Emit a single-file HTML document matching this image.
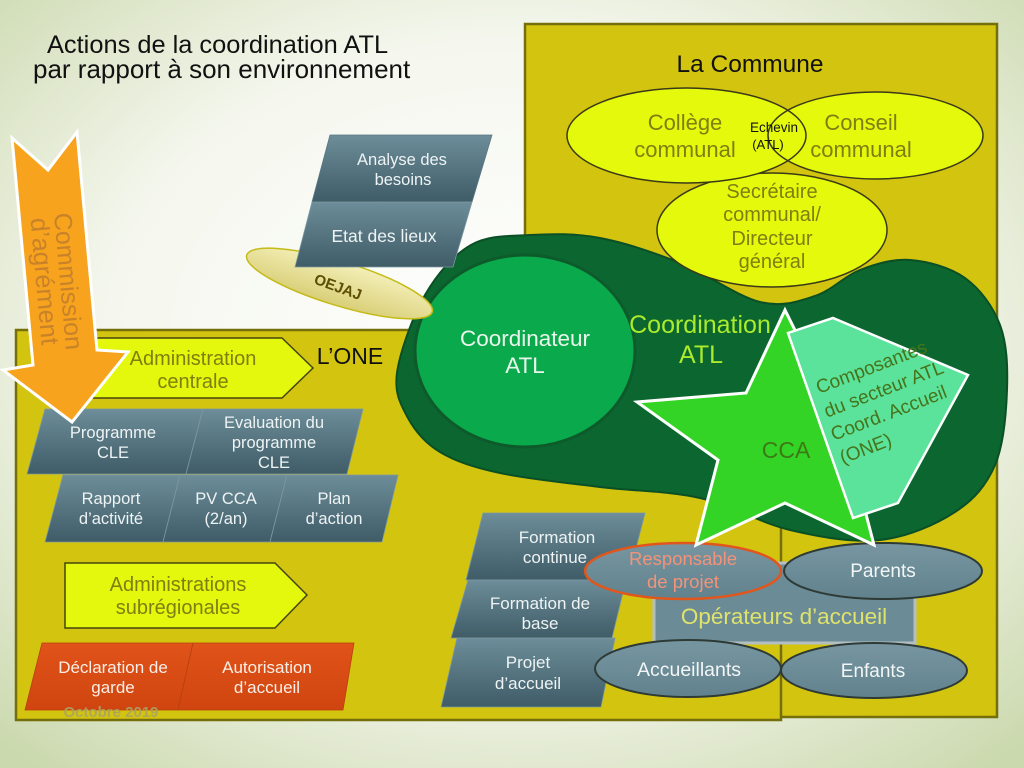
<!DOCTYPE html>
<html><head><meta charset="utf-8">
<style>
html,body{margin:0;padding:0;width:1024px;height:768px;overflow:hidden;background:#f4f6ec;}
svg{display:block;}
text{font-family:"Liberation Sans",Arial,sans-serif;}
</style></head><body>
<svg width="1024" height="768" viewBox="0 0 1024 768" xmlns="http://www.w3.org/2000/svg">
<defs>
<radialGradient id="bg" cx="50%" cy="45%" r="72%">
 <stop offset="0" stop-color="#ffffff"/>
 <stop offset="0.55" stop-color="#f5f7ee"/>
 <stop offset="1" stop-color="#cbd9ae"/>
</radialGradient>
<linearGradient id="slate" x1="0" y1="0" x2="0" y2="1">
 <stop offset="0" stop-color="#6c8d99"/>
 <stop offset="1" stop-color="#3f5c67"/>
</linearGradient>
<linearGradient id="red" x1="0" y1="0" x2="0" y2="1">
 <stop offset="0" stop-color="#e0541a"/>
 <stop offset="1" stop-color="#d0440f"/>
</linearGradient>
<linearGradient id="oe" x1="0" y1="0" x2="0" y2="1">
 <stop offset="0" stop-color="#f4efb8"/>
 <stop offset="1" stop-color="#d9cf78"/>
</linearGradient>
<linearGradient id="ell" x1="0" y1="0" x2="0" y2="1">
 <stop offset="0" stop-color="#7796a1"/>
 <stop offset="1" stop-color="#61828d"/>
</linearGradient>
</defs>

<rect x="0" y="0" width="1024" height="768" fill="url(#bg)"/>

<!-- Title -->
<text x="47" y="53" font-size="25.4" fill="#111">Actions de la coordination ATL</text>
<text x="33" y="78" font-size="26" fill="#111">par rapport à son environnement</text>

<!-- Boxes -->
<rect x="525" y="24" width="472" height="693" fill="#d3c40f" stroke="#756f0b" stroke-width="2.5"/>
<rect x="16" y="330" width="765" height="390" fill="#d3c40f" stroke="#756f0b" stroke-width="2.5"/>

<!-- Coordination blob -->
<path d="M397,373 C399.8,352.5 412.7,316.3 425,295 C437.3,273.7 453.5,255 471,245 C488.5,235 508.5,236.2 530,235 C551.5,233.8 575,233.3 600,238 C625,242.7 653.3,252.3 680,263 C706.7,273.7 737.5,296.5 760,302 C782.5,307.5 798.3,301.3 815,296 C831.7,290.7 844.2,276 860,270 C875.8,264 892.5,258.7 910,260 C927.5,261.3 950,267.2 965,278 C980,288.8 993,306.3 1000,325 C1007,343.7 1007.8,366.7 1007,390 C1006.2,413.3 1003.7,444.7 995,465 C986.3,485.3 974.2,499.5 955,512 C935.8,524.5 907.5,537 880,540 C852.5,543 820,537 790,530 C760,523 731.7,505.2 700,498 C668.3,490.8 633.3,491.2 600,487 C566.7,482.8 526.7,478.8 500,473 C473.3,467.2 455.3,461.2 440,452 C424.7,442.8 415.2,431.2 408,418 C400.8,404.8 394.2,393.5 397,373 Z" fill="#0c6630" stroke="#0a4f25" stroke-width="2"/>

<!-- Coordinateur -->
<ellipse cx="525" cy="351" rx="110" ry="96" fill="#0aa94b" stroke="#0d5a2b" stroke-width="3"/>
<text x="525" y="346" font-size="22.5" fill="#eaf6ec" text-anchor="middle">Coordinateur</text>
<text x="525" y="373" font-size="22.5" fill="#eaf6ec" text-anchor="middle">ATL</text>

<!-- Commune ellipses -->
<ellipse cx="772" cy="230" rx="115" ry="57" fill="#e5f90c" stroke="#3a3a18" stroke-width="1.5"/>
<ellipse cx="686.5" cy="135.5" rx="119.5" ry="47.5" fill="#e5f90c"/>
<ellipse cx="875.5" cy="135.5" rx="107.5" ry="43.5" fill="#e5f90c"/>
<ellipse cx="686.5" cy="135.5" rx="119.5" ry="47.5" fill="none" stroke="#3a3a18" stroke-width="1.5"/>
<ellipse cx="875.5" cy="135.5" rx="107.5" ry="43.5" fill="none" stroke="#3a3a18" stroke-width="1.5"/>

<text x="750" y="72" font-size="24.5" fill="#111" text-anchor="middle">La Commune</text>
<g font-size="22" fill="#7f7e12" text-anchor="middle">
<text x="685" y="130">Collège</text>
<text x="685" y="157">communal</text>
<text x="861" y="130">Conseil</text>
<text x="861" y="157">communal</text>
</g>
<text x="774" y="132" font-size="13.5" fill="#111" text-anchor="middle">Echevin</text>
<text x="768" y="149" font-size="13" fill="#111" text-anchor="middle">(ATL)</text>
<g font-size="20" fill="#7f7e12" text-anchor="middle">
<text x="772" y="198">Secrétaire</text>
<text x="772" y="221">communal/</text>
<text x="772" y="245">Directeur</text>
<text x="772" y="268">général</text>
</g>

<!-- OEJAJ -->
<ellipse cx="339.5" cy="283.5" rx="97" ry="22" transform="rotate(17 339.5 283.5)" fill="url(#oe)" stroke="#c5bb18" stroke-width="1.5"/>
<text transform="translate(338,287) rotate(20)" y="5" font-size="15" font-weight="bold" fill="#5c4e05" text-anchor="middle">OEJAJ</text>

<!-- Analyse / Etat -->
<polygon points="330,135 492,135 472,202 312,202" fill="url(#slate)" stroke="#5a7782" stroke-width="0.8"/>
<polygon points="312,202 472,202 453,267 295,267" fill="url(#slate)" stroke="#7c98a2" stroke-width="0.8"/>
<g fill="#eef3f4" text-anchor="middle">
<text x="402" y="165" font-size="16.5">Analyse des</text>
<text x="403" y="185" font-size="16.5">besoins</text>
<text x="384" y="242" font-size="17.5">Etat des lieux</text>
</g>

<!-- Administration centrale -->
<polygon points="70,338 282,338 313,368 282,398 70,398" fill="#e3f80c" stroke="#45450f" stroke-width="1.5"/>
<text x="193" y="365" font-size="20" fill="#7f7e12" text-anchor="middle">Administration</text>
<text x="193" y="388" font-size="20" fill="#7f7e12" text-anchor="middle">centrale</text>
<text x="350" y="364" font-size="23" fill="#111" text-anchor="middle">L’ONE</text>

<!-- Programme rows -->
<g fill="url(#slate)" stroke="#7c98a2" stroke-width="0.8">
<polygon points="45,409 203,409 186,474 27,474"/>
<polygon points="203,409 363,409 347,474 186,474"/>
<polygon points="63,475 180,475 163,542 45,542"/>
<polygon points="180,475 287,475 270,542 163,542"/>
<polygon points="287,475 398,475 382,542 270,542"/>
</g>
<g fill="#eef3f4" text-anchor="middle" font-size="16.5">
<text x="113" y="438">Programme</text>
<text x="113" y="458">CLE</text>
<text x="274" y="428">Evaluation du</text>
<text x="274" y="448">programme</text>
<text x="274" y="468">CLE</text>
<text x="111" y="504">Rapport</text>
<text x="111" y="524">d’activité</text>
<text x="226" y="504">PV CCA</text>
<text x="226" y="524">(2/an)</text>
<text x="334" y="504">Plan</text>
<text x="334" y="524">d’action</text>
</g>

<!-- Commission d'agrément arrow (on top of programme row) -->
<polygon points="12,138 48,170 77,132 97,350 128,352 72,422 3,370 33,365" fill="#f7a31d" stroke="#ffffff" stroke-width="3" stroke-linejoin="miter"/>
<text transform="translate(60,282) rotate(85)" font-size="25" fill="#c8822a" text-anchor="middle">Commission</text>
<text transform="translate(36,282) rotate(85)" font-size="25.5" fill="#c8822a" text-anchor="middle">d’agrément</text>

<!-- Administrations subrégionales -->
<polygon points="65,563 275,563 307,595 275,628 65,628" fill="#e3f80c" stroke="#45450f" stroke-width="1.5"/>
<text x="178" y="591" font-size="20" fill="#7f7e12" text-anchor="middle">Administrations</text>
<text x="178" y="614" font-size="20" fill="#7f7e12" text-anchor="middle">subrégionales</text>

<!-- Red boxes -->
<polygon points="42,643 193,643 178,710 25,710" fill="url(#red)" stroke="#b8400f" stroke-width="0.8"/>
<polygon points="193,643 354,643 343,710 178,710" fill="url(#red)" stroke="#b8400f" stroke-width="0.8"/>
<g fill="#fbeee6" text-anchor="middle" font-size="17">
<text x="113" y="673">Déclaration de</text>
<text x="113" y="693">garde</text>
<text x="267" y="673">Autorisation</text>
<text x="267" y="693">d’accueil</text>
</g>
<text x="111" y="717" font-size="15" font-weight="bold" fill="#aaa463" text-anchor="middle" opacity="0.9">Octobre 2019</text>

<!-- Formation boxes -->
<g fill="url(#slate)" stroke="#7c98a2" stroke-width="0.8">
<polygon points="483,513 645,513 628,580 466,580"/>
<polygon points="468,580 626,580 612,638 451,638"/>
<polygon points="457,638 615,638 601,707 441,707"/>
</g>
<g fill="#eef3f4" text-anchor="middle" font-size="17">
<text x="557" y="543">Formation</text>
<text x="555" y="563">continue</text>
<text x="540" y="609">Formation de</text>
<text x="540" y="629">base</text>
<text x="528" y="668">Projet</text>
<text x="528" y="689">d’accueil</text>
</g>

<!-- Opérateurs d'accueil -->
<rect x="654" y="563" width="261" height="80" fill="#6b8b96" stroke="#b3bfc2" stroke-width="3"/>
<text x="784" y="624" font-size="22.5" fill="#dfe36c" text-anchor="middle">Opérateurs d’accueil</text>

<ellipse cx="683" cy="571" rx="98" ry="28" fill="url(#ell)" stroke="#e0561c" stroke-width="2.5"/>
<ellipse cx="883" cy="571" rx="99" ry="28" fill="url(#ell)" stroke="#2e3a35" stroke-width="2"/>
<ellipse cx="688" cy="668.5" rx="93" ry="28.5" fill="url(#ell)" stroke="#2e3a35" stroke-width="2"/>
<ellipse cx="874" cy="670.5" rx="93" ry="27.5" fill="url(#ell)" stroke="#2e3a35" stroke-width="2"/>
<text x="683" y="565" font-size="18.5" fill="#f2937a" text-anchor="middle">Responsable</text>
<text x="683" y="588" font-size="18.5" fill="#f2937a" text-anchor="middle">de projet</text>
<text x="883" y="577" font-size="19" fill="#f2f6f6" text-anchor="middle">Parents</text>
<text x="689" y="676" font-size="19.5" fill="#f2f6f6" text-anchor="middle">Accueillants</text>
<text x="873" y="677" font-size="19" fill="#f2f6f6" text-anchor="middle">Enfants</text>

<!-- Star CCA -->
<polygon points="785,310 826,393 934,402 852,460 874,545 785,503 696,545 718,460 637,402 746,393" fill="#33d425" stroke="#ffffff" stroke-width="3" stroke-linejoin="miter"/>
<!-- Composantes polygon -->
<polygon points="788,333 833,318 968,375 898,503 853,518" fill="#5be39b" stroke="#ffffff" stroke-width="2.5"/>

<text x="786" y="458" font-size="23" fill="#3d7a16" text-anchor="middle">CCA</text>
<g transform="translate(819,394) rotate(-21)" font-size="19" fill="#46741a">
<text x="0" y="0">Composantes</text>
<text x="-1" y="25">du secteur ATL</text>
<text x="-3" y="49">Coord. Accueil</text>
<text x="-3" y="74">(ONE)</text>
</g>

<text x="700" y="333" font-size="25" fill="#aaec2c" text-anchor="middle">Coordination</text>
<text x="701" y="363" font-size="25" fill="#aaec2c" text-anchor="middle">ATL</text>
</svg>
</body></html>
